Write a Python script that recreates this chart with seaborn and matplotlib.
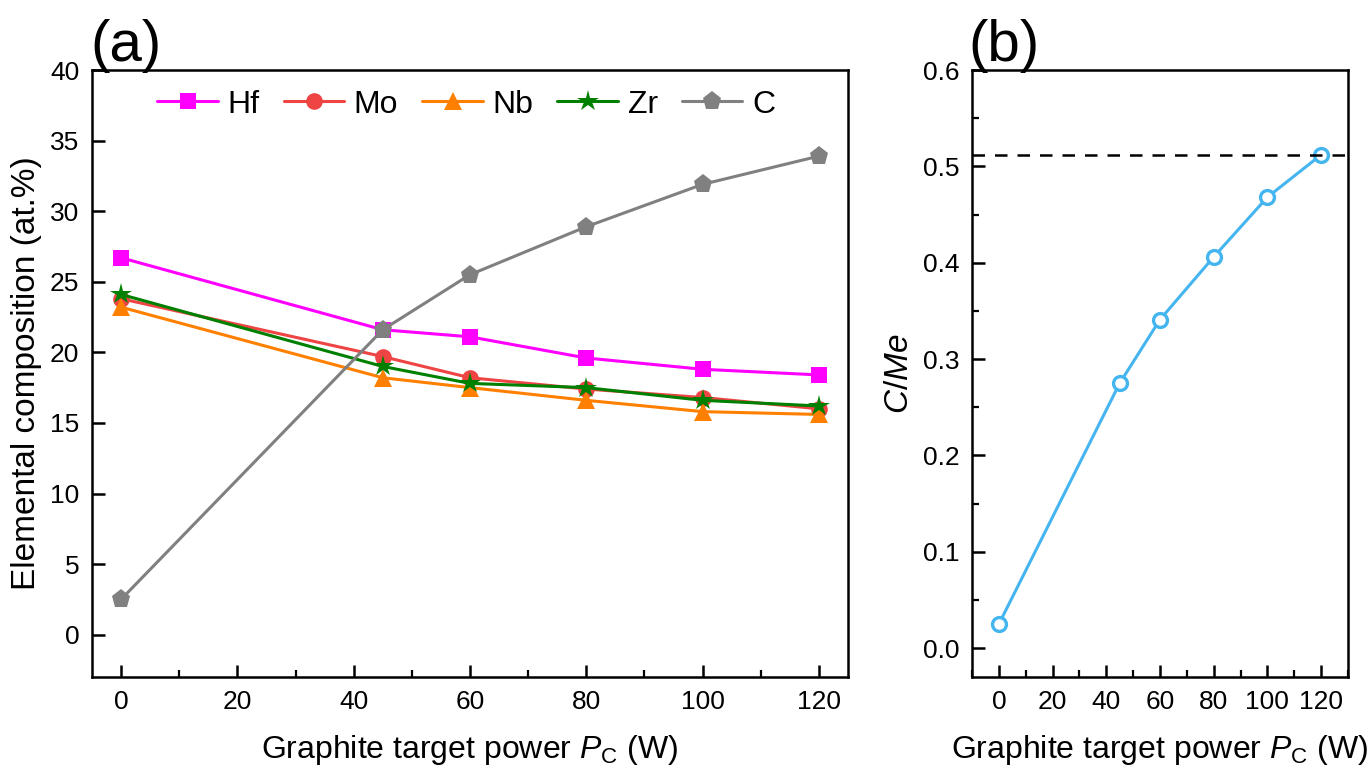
import numpy as np
import pandas as pd
import matplotlib
matplotlib.use("Agg")
import matplotlib.pyplot as plt
from matplotlib.ticker import MultipleLocator, FormatStrFormatter
import seaborn as sns

# ---- data ----
power = [0, 45, 60, 80, 100, 120]
elements = ["Hf", "Mo", "Nb", "Zr", "C"]
hf = [26.7, 21.6, 21.1, 19.6, 18.8, 18.4]
mo = [23.8, 19.7, 18.2, 17.4, 16.8, 16.0]
nb = [23.2, 18.2, 17.5, 16.6, 15.8, 15.6]
zr = [24.1, 19.0, 17.8, 17.5, 16.6, 16.2]
c = [2.5, 21.6, 25.5, 28.9, 31.9, 33.9]
c_me = [0.025, 0.275, 0.341, 0.406, 0.468, 0.512]
c_me_ref = 0.512

colors = {"Hf": "#FF00FF", "Mo": "#EE4444", "Nb": "#FF8000", "Zr": "#008000", "C": "#808080"}
markers = {"Hf": "s", "Mo": "o", "Nb": "^", "Zr": "*", "C": "p"}
msizes = {"Hf": 11, "Mo": 12, "Nb": 13, "Zr": 16, "C": 14}

sns.set_style("ticks")
plt.rcParams["font.family"] = ["Liberation Sans", "DejaVu Sans"]
plt.rcParams["mathtext.fontset"] = "custom"
plt.rcParams["mathtext.rm"] = "Liberation Sans"
plt.rcParams["mathtext.it"] = "Liberation Sans:italic"
for k in ("text.color", "axes.labelcolor", "xtick.color", "ytick.color", "axes.edgecolor"):
    plt.rcParams[k] = "black"

fig = plt.figure(figsize=(13.71, 7.71), dpi=100)
ax1 = fig.add_axes([0.0671, 0.1219, 0.5514, 0.7873])
ax2 = fig.add_axes([0.7090, 0.1219, 0.2742, 0.7873])

vals = {"Hf": hf, "Mo": mo, "Nb": nb, "Zr": zr, "C": c}
df = pd.DataFrame({
    "power": np.tile(power, len(elements)),
    "value": np.concatenate([vals[e] for e in elements]),
    "element": np.repeat(elements, len(power)),
})

for e in elements:
    sub = df[df["element"] == e]
    sns.lineplot(data=sub, x="power", y="value", ax=ax1, color=colors[e],
                 marker=markers[e], markersize=msizes[e], markeredgewidth=0,
                 linewidth=2.2, label=e)

ax1.set_xlim(-5, 125)
ax1.set_ylim(-3, 40)
ax1.xaxis.set_major_locator(MultipleLocator(20))
ax1.xaxis.set_minor_locator(MultipleLocator(10))
ax1.yaxis.set_major_locator(MultipleLocator(5))
ax1.set_xlabel(r"Graphite target power $\it{P}_\mathrm{C}$ (W)", fontsize=23, labelpad=14)
ax1.set_ylabel("Elemental composition (at.%)", fontsize=24, labelpad=6)
ax1.legend(loc="upper center", ncol=5, frameon=False, fontsize=23,
           handlelength=1.9, handletextpad=0.3, columnspacing=0.75,
           bbox_to_anchor=(0.495, 1.015))

dfb = pd.DataFrame({"power": power, "ratio": c_me})
sns.lineplot(data=dfb, x="power", y="ratio", ax=ax2, color="#45B5F0",
             marker="o", markersize=10, markerfacecolor="white",
             markeredgecolor="#45B5F0", markeredgewidth=2.4, linewidth=2.2)
ax2.axhline(c_me_ref, color="black", linestyle=(0, (5, 4)), linewidth=1.8)
ax2.set_xlim(-10, 130)
ax2.set_ylim(-0.03, 0.6)
ax2.xaxis.set_major_locator(MultipleLocator(20))
ax2.xaxis.set_minor_locator(MultipleLocator(10))
ax2.yaxis.set_major_locator(MultipleLocator(0.1))
ax2.yaxis.set_minor_locator(MultipleLocator(0.05))
ax2.yaxis.set_major_formatter(FormatStrFormatter("%.1f"))
ax2.set_xlabel(r"Graphite target power $\it{P}_\mathrm{C}$ (W)", fontsize=23, labelpad=14)
ax2.set_ylabel(r"$\it{C/Me}$", fontsize=24, labelpad=6)

for ax in (ax1, ax2):
    for sp in ax.spines.values():
        sp.set_linewidth(1.8)
        sp.set_color("black")
    ax.tick_params(axis="both", which="major", direction="in", length=9, width=1.8,
                   labelsize=19, pad=9, top=False, right=False, colors="black")
    ax.tick_params(axis="both", which="minor", direction="in", length=5, width=1.6,
                   top=False, right=False, colors="black")

fig.text(0.066, 0.905, "(a)", fontsize=42, ha="left", va="bottom")
fig.text(0.706, 0.905, "(b)", fontsize=42, ha="left", va="bottom")

fig.savefig("out.png", dpi=100)
